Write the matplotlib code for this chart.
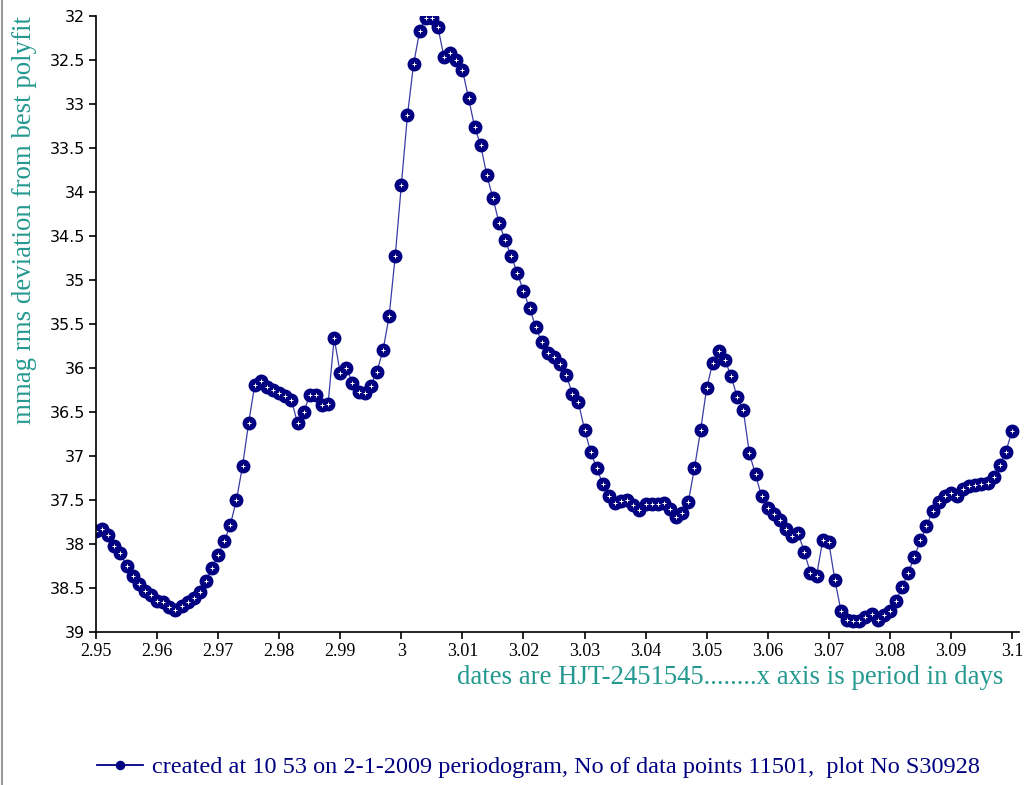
#!/usr/bin/env python3
import matplotlib
matplotlib.use("Agg")
import matplotlib.pyplot as plt
from matplotlib.lines import Line2D
import numpy as np

# trial periods (days), one every 0.001 d
period = np.round(np.arange(2950, 3101) / 1000.0, 3)

# rms deviation (mmag) from the best polynomial fit at each trial period
rms_2950 = [37.85, 37.83, 37.90, 38.02, 38.10, 38.25, 38.36, 38.46, 38.53, 38.58,
            38.65, 38.66, 38.72, 38.75, 38.71, 38.66, 38.61, 38.55, 38.42, 38.27,
            38.12, 37.97, 37.78, 37.50, 37.11, 36.62, 36.19, 36.15, 36.22, 36.25]
rms_2980 = [36.28, 36.32, 36.36, 36.63, 36.50, 36.31, 36.31, 36.42, 36.41, 35.66,
            36.06, 36.00, 36.17, 36.27, 36.28, 36.20, 36.04, 35.80, 35.41, 34.73,
            33.92, 33.13, 32.55, 32.17, 32.02, 32.02, 32.13, 32.47, 32.42, 32.50]
rms_3010 = [32.61, 32.93, 33.26, 33.47, 33.81, 34.07, 34.35, 34.55, 34.73, 34.92,
            35.13, 35.32, 35.53, 35.71, 35.83, 35.88, 35.96, 36.08, 36.29, 36.39,
            36.70, 36.95, 37.14, 37.32, 37.46, 37.53, 37.51, 37.50, 37.56, 37.61]
rms_3040 = [37.54, 37.55, 37.55, 37.53, 37.60, 37.69, 37.65, 37.52, 37.14, 36.71,
            36.23, 35.94, 35.81, 35.91, 36.09, 36.33, 36.48, 36.97, 37.21, 37.46,
            37.59, 37.66, 37.73, 37.83, 37.91, 37.88, 38.09, 38.33, 38.36, 37.96]
rms_3070 = [37.98, 38.41, 38.76, 38.86, 38.88, 38.87, 38.83, 38.80, 38.86, 38.81,
            38.76, 38.65, 38.49, 38.33, 38.15, 37.96, 37.80, 37.62, 37.52, 37.46,
            37.42, 37.45, 37.38, 37.34, 37.33, 37.32, 37.31, 37.24, 37.10, 36.95,
            36.72]
rms = np.array(rms_2950 + rms_2980 + rms_3010 + rms_3040 + rms_3070)

xtick_labels = ["2.95", "2.96", "2.97", "2.98", "2.99", "3", "3.01", "3.02",
                "3.03", "3.04", "3.05", "3.06", "3.07", "3.08", "3.09", "3.1"]
ytick_labels = ["32", "32.5", "33", "33.5", "34", "34.5", "35", "35.5",
                "36", "36.5", "37", "37.5", "38", "38.5", "39"]

legend_text = ("created at 10 53 on 2-1-2009 periodogram, No of data points 11501,  "
               "plot No S30928")

navy = "#000080"
teal = "#24998f"
serif = ["Liberation Serif", "DejaVu Serif"]

fig = plt.figure(figsize=(10.27, 7.85), dpi=100)
ax = fig.add_axes([0.0935, 0.1949, 0.8987, 0.7847])

ax.plot(period, rms, color="#3b3ba6", lw=0.9, marker="o", ms=9,
        mfc=navy, mec=navy, label=legend_text)
# small white cross inside each dot
ax.plot(period, rms, ls="none", marker="+", ms=2.6, mew=0.7, color="white")

ax.set_xlim(2.95, 3.10115)
ax.set_ylim(39, 32)
ax.set_xticks(np.round(np.arange(295, 311) / 100.0, 2))
ax.set_xticklabels(xtick_labels, family=serif, fontsize=13)
ax.set_yticks(np.arange(32, 39.01, 0.5))
ax.set_yticklabels(ytick_labels, fontsize=11.5)

for side in ["top", "right"]:
    ax.spines[side].set_visible(False)
for side in ["left", "bottom"]:
    ax.spines[side].set_linewidth(1.2)
ax.tick_params(direction="out", length=5, width=1.2, pad=3)

fig.text(25 / 1027, 1 - 220 / 785, "mmag rms deviation from best polyfit",
         rotation=90, ha="center", va="center", color=teal, fontsize=19.4,
         family=serif)
fig.text(1003 / 1027, 1 - 678 / 785,
         "dates are HJT-2451545........x axis is period in days",
         ha="right", va="center", color=teal, fontsize=19.3, family=serif)

leg = fig.legend(handles=[ax.lines[0]], loc="center",
                 bbox_to_anchor=(0.524, 1 - 767 / 785), frameon=False,
                 prop={"family": serif, "size": 17.5}, handlelength=1.9,
                 handletextpad=0.35, markerscale=0.65)
for t in leg.get_texts():
    t.set_color(navy)
leg.legend_handles[0].set_color(navy)
leg.legend_handles[0].set_linewidth(1.3)

# grey frame edge on the left of the picture
fig.add_artist(Line2D([0.0015, 0.0015], [0, 1], transform=fig.transFigure,
                      color="#999999", lw=1.5))

fig.savefig("out.png", dpi=100)
